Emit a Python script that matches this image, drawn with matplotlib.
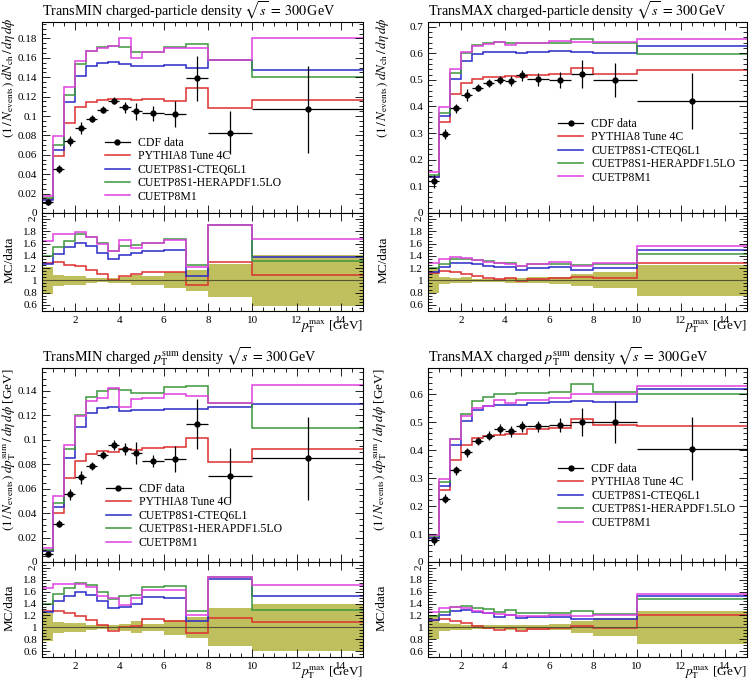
import numpy as np
import matplotlib
matplotlib.use('Agg')
from matplotlib import pyplot as plt
from matplotlib.ticker import MultipleLocator, AutoMinorLocator, FuncFormatter, FixedLocator
from matplotlib.lines import Line2D

plt.rcParams['font.family'] = ['Liberation Serif', 'DejaVu Serif']
plt.rcParams['mathtext.fontset'] = 'stix'

# bin edges in pT max [GeV]
edges = [0.5, 1.0, 1.5, 2.0, 2.5, 3.0, 3.5, 4.0, 4.5, 5.0, 6.0, 7.0, 8.0, 10.0, 15.0]

labels = ['PYTHIA8 Tune 4C', 'CUETP8S1-CTEQ6L1', 'CUETP8S1-HERAPDF1.5LO', 'CUETP8M1']
colors = ['#dd3030', '#2a2ac8', '#3c963c', '#e040e0']

# TransMIN charged-particle density
nchmin_data = [0.0108, 0.0453, 0.074, 0.088, 0.0974, 0.1066, 0.116, 0.109, 0.105, 0.103, 0.102, 0.139, 0.083, 0.107]
nchmin_err = [0.0024, 0.0041, 0.0052, 0.0062, 0.0039, 0.0037, 0.0041, 0.0055, 0.0086, 0.0077, 0.0133, 0.023, 0.0224, 0.045]
nchmin_4c = [0.0139, 0.059, 0.093, 0.109, 0.1145, 0.117, 0.1176, 0.1176, 0.1166, 0.1176, 0.116, 0.129, 0.108, 0.1166]
nchmin_cteq = [0.0137, 0.065, 0.114, 0.141, 0.152, 0.155, 0.156, 0.154, 0.152, 0.152, 0.153, 0.150, 0.158, 0.147]
nchmin_hera = [0.0151, 0.070, 0.122, 0.154, 0.167, 0.171, 0.172, 0.171, 0.166, 0.166, 0.171, 0.174, 0.158, 0.140]
nchmin_m1 = [0.0178, 0.0795, 0.130, 0.157, 0.167, 0.170, 0.172, 0.180, 0.160, 0.166, 0.170, 0.170, 0.158, 0.180]

# TransMAX charged-particle density
nchmax_data = [0.119, 0.296, 0.3925, 0.444, 0.471, 0.4875, 0.50, 0.495, 0.5175, 0.5025, 0.50, 0.521, 0.50, 0.419]
nchmax_err = [0.024, 0.018, 0.0177, 0.022, 0.0141, 0.0146, 0.015, 0.0198, 0.0207, 0.025, 0.03, 0.052, 0.065, 0.105]
nchmax_4c = [0.134, 0.341, 0.4475, 0.49, 0.504, 0.51, 0.5125, 0.515, 0.51, 0.5175, 0.5225, 0.546, 0.5225, 0.5375]
nchmax_cteq = [0.136, 0.3625, 0.504, 0.571, 0.5975, 0.604, 0.606, 0.604, 0.6025, 0.606, 0.61, 0.606, 0.60, 0.6275]
nchmax_hera = [0.143, 0.375, 0.5275, 0.60, 0.631, 0.64, 0.641, 0.6375, 0.6375, 0.64, 0.6375, 0.655, 0.6375, 0.5975]
nchmax_m1 = [0.153, 0.3975, 0.54, 0.604, 0.629, 0.634, 0.644, 0.631, 0.6375, 0.64, 0.6475, 0.644, 0.644, 0.655]

# TransMIN charged pTsum density
ptmin_data = [0.0068, 0.0312, 0.0553, 0.0693, 0.0786, 0.0877, 0.0956, 0.0923, 0.0893, 0.0822, 0.0841, 0.113, 0.0704, 0.0847]
ptmin_err = [0.0016, 0.0028, 0.0044, 0.0055, 0.0031, 0.0031, 0.0038, 0.0051, 0.0089, 0.0049, 0.0109, 0.0203, 0.0225, 0.0339]
ptmin_4c = [0.0087, 0.040, 0.0685, 0.0827, 0.0882, 0.091, 0.090, 0.0923, 0.0918, 0.0932, 0.0937, 0.1014, 0.0819, 0.0923]
ptmin_cteq = [0.0086, 0.0449, 0.0849, 0.1107, 0.1216, 0.1258, 0.1271, 0.1238, 0.1247, 0.1244, 0.1252, 0.1252, 0.1271, 0.1293]
ptmin_hera = [0.0095, 0.0485, 0.0923, 0.1205, 0.1348, 0.1397, 0.1414, 0.1408, 0.138, 0.138, 0.143, 0.144, 0.130, 0.1096]
ptmin_m1 = [0.0113, 0.054, 0.0959, 0.1197, 0.132, 0.134, 0.142, 0.127, 0.1334, 0.134, 0.1375, 0.136, 0.130, 0.145]

# TransMAX charged pTsum density
ptmax_data = [0.078, 0.226, 0.3286, 0.3917, 0.432, 0.452, 0.476, 0.467, 0.486, 0.486, 0.489, 0.501, 0.50, 0.405]
ptmax_err = [0.0156, 0.0158, 0.0164, 0.0157, 0.0151, 0.0158, 0.0167, 0.0187, 0.0194, 0.0194, 0.0245, 0.050, 0.075, 0.113]
ptmax_4c = [0.087, 0.257, 0.364, 0.42, 0.443, 0.45, 0.4536, 0.458, 0.456, 0.474, 0.48, 0.51, 0.49, 0.488]
ptmax_cteq = [0.087, 0.271, 0.417, 0.504, 0.543, 0.557, 0.561, 0.56, 0.561, 0.569, 0.571, 0.575, 0.571, 0.619]
ptmax_hera = [0.093, 0.286, 0.44, 0.531, 0.575, 0.59, 0.60, 0.60, 0.604, 0.606, 0.608, 0.635, 0.608, 0.60]
ptmax_m1 = [0.098, 0.2976, 0.44, 0.521, 0.551, 0.557, 0.581, 0.567, 0.581, 0.581, 0.587, 0.60, 0.60, 0.629]

ylab_nch = r'$(1\,/\,N_\mathrm{events})\;dN_\mathrm{ch}\,/\,d\eta\,d\phi$'
ylab_pt = r'$(1\,/\,N_\mathrm{events})\;dp_\mathrm{T}^\mathrm{sum}\,/\,d\eta\,d\phi$ [GeV]'
xlab = r'$p_\mathrm{T}^\mathrm{max}$ [GeV]'

fmt = FuncFormatter(lambda v, p: '%g' % round(v, 4))


def draw_panel(rect_main, rect_ratio, data, err, mcs, title, ylabel, ytop, ymaj, nminor, leg_xy, ylab_xy):
	axm = fig.add_axes(rect_main)
	axr = fig.add_axes(rect_ratio, sharex=axm)
	edg = np.array(edges)
	d = np.array(data)
	e = np.array(err)
	xc = 0.5 * (edg[1:] + edg[:-1])
	xw = 0.5 * (edg[1:] - edg[:-1])

	for vals, col in zip(mcs, colors):
		axm.stairs(vals, edg, baseline=None, color=col, lw=1.1)
	axm.errorbar(xc, d, yerr=e, xerr=xw, fmt='o', color='black', ms=3.5, lw=0.9, capsize=0)

	# ratio panel
	axr.stairs(1 + e / d, edg, baseline=1 - e / d, fill=True, color='#bfbf5e', lw=0)
	axr.axhline(1.0, color='#555533', lw=0.8)
	for vals, col in zip(mcs, colors):
		axr.stairs(np.array(vals) / d, edg, baseline=None, color=col, lw=1.1)

	axm.set_xlim(0.5, 15)
	axm.set_ylim(0, ytop)
	axr.set_ylim(0.5, 2.1)

	for a in (axm, axr):
		a.tick_params(which='both', direction='in', top=True, right=True, labelsize=8)
		a.tick_params(which='major', length=6, width=0.6)
		a.tick_params(which='minor', length=3, width=0.6)
		for s in a.spines.values():
			s.set_linewidth(0.8)
	axm.xaxis.set_major_locator(MultipleLocator(2))
	axm.xaxis.set_minor_locator(MultipleLocator(0.5))
	axm.yaxis.set_major_locator(MultipleLocator(ymaj))
	axm.yaxis.set_minor_locator(AutoMinorLocator(nminor))
	axm.yaxis.set_major_formatter(fmt)
	axm.tick_params(labelbottom=False)
	axr.yaxis.set_major_locator(FixedLocator([0.6, 0.8, 1.0, 1.2, 1.4, 1.6, 1.8, 2.0]))
	axr.yaxis.set_minor_locator(MultipleLocator(0.05))
	axr.yaxis.set_major_formatter(fmt)
	axr.xaxis.set_major_formatter(fmt)
	axr.yaxis.get_major_ticks()[-1].label1.set_rotation(90)

	axm.set_title(title, loc='left', fontsize=10.2, pad=4)
	axm.set_ylabel(ylabel, loc='top', fontsize=9.5)
	axm.yaxis.set_label_coords(ylab_xy[0], ylab_xy[1])
	axr.set_ylabel('MC/data', fontsize=9.5)
	axr.yaxis.set_label_coords(ylab_xy[0] - 0.005, 0.52)
	axr.set_xlabel(xlab, loc='right', fontsize=9.5)
	axr.xaxis.set_label_coords(1.0, -0.08)
	axr.xaxis.label.set_va('top')

	handles = [Line2D([], [], color='black', marker='o', ms=3.5, lw=0.9)]
	handles += [Line2D([], [], color=c, lw=1.1) for c in colors]
	axm.legend(handles, ['CDF data'] + labels, loc='upper left', bbox_to_anchor=leg_xy,
		frameon=False, fontsize=8.5, borderpad=0, borderaxespad=0, labelspacing=0.12,
		handlelength=2.1, handletextpad=0.7)
	return axm, axr


fig = plt.figure(figsize=(7.52, 6.87), dpi=100)

L1, W1 = 42 / 752, 321 / 752
L2, W2 = 428 / 752, 319 / 752

draw_panel([L1, 0.6900, W1, 0.2780], [L1, 0.5473, W1, 0.1427],
	nchmin_data, nchmin_err, [nchmin_4c, nchmin_cteq, nchmin_hera, nchmin_m1],
	r'TransMIN charged-particle density $\sqrt{s}\,=\,300\,$GeV', ylab_nch, 0.197, 0.02, 4,
	(0.196, 0.398), (-0.078, 1.026))
draw_panel([L2, 0.6900, W2, 0.2780], [L2, 0.5473, W2, 0.1427],
	nchmax_data, nchmax_err, [nchmax_4c, nchmax_cteq, nchmax_hera, nchmax_m1],
	r'TransMAX charged-particle density $\sqrt{s}\,=\,300\,$GeV', ylab_nch, 0.7175, 0.1, 5,
	(0.408, 0.498), (-0.116, 1.026))
draw_panel([L1, 0.1820, W1, 0.2824], [L1, 0.0437, W1, 0.1383],
	ptmin_data, ptmin_err, [ptmin_4c, ptmin_cteq, ptmin_hera, ptmin_m1],
	r'TransMIN charged $p_\mathrm{T}^\mathrm{sum}$ density $\sqrt{s}\,=\,300\,$GeV', ylab_pt, 0.1587, 0.02, 4,
	(0.199, 0.407), (-0.076, 1.0))
draw_panel([L2, 0.1820, W2, 0.2824], [L2, 0.0437, W2, 0.1383],
	ptmax_data, ptmax_err, [ptmax_4c, ptmax_cteq, ptmax_hera, ptmax_m1],
	r'TransMAX charged $p_\mathrm{T}^\mathrm{sum}$ density $\sqrt{s}\,=\,300\,$GeV', ylab_pt, 0.694, 0.1, 5,
	(0.408, 0.51), (-0.122, 1.0))

fig.savefig('out.png', dpi=100)
